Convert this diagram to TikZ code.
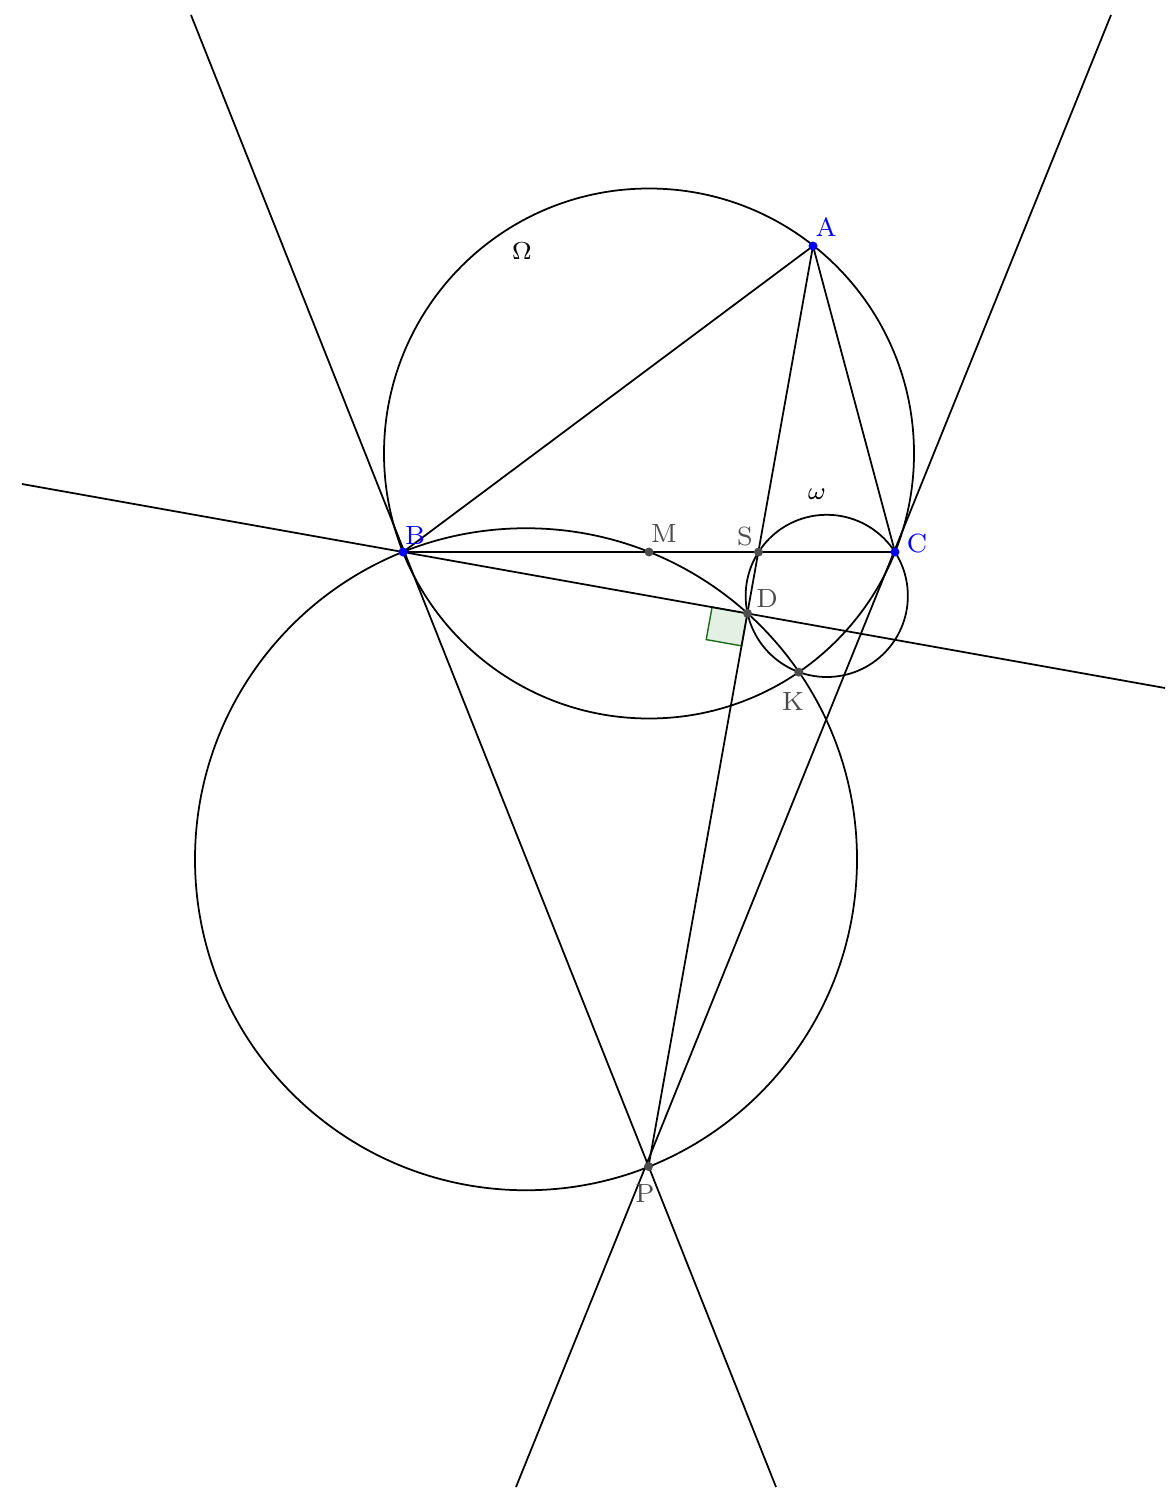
\documentclass[tikz,border=0pt]{standalone}
\usetikzlibrary{calc}
\begin{document}
\begin{tikzpicture}[x=0.01cm, y=-0.01cm, line width=0.5pt,
  lab/.style={font=\fontsize{7.5}{9}\selectfont, inner sep=0pt},
  ptdot/.style={radius=4.5}]
\definecolor{ptblue}{HTML}{0000FF}
\definecolor{ptgray}{HTML}{4D4D4D}
\definecolor{angfill}{HTML}{E3F0E3}
\definecolor{angline}{HTML}{1E6B1E}
\useasboundingbox (0,0) rectangle (1174,1494);
% points
\coordinate (A) at (813,246);
\coordinate (B) at (403,552);
\coordinate (C) at (895,552);
\coordinate (M) at (649,552);
\coordinate (S) at (758.5,552);
\coordinate (D) at (747.5,613.4);
\coordinate (K) at (798.8,672.1);
\coordinate (P) at (648.5,1166.5);
% centres
\coordinate (O) at (649,453.5);
\coordinate (Q) at (526,859.25);
\coordinate (W) at (826.75,595.9);
% free ends of the long lines
\coordinate (tB1) at (191,15);
\coordinate (tB2) at (776,1487);
\coordinate (tC1) at (1111,15);
\coordinate (tC2) at (516,1487);
\coordinate (bd1) at (22,484);
\coordinate (bd2) at (1165,688);
% right angle at D
\coordinate (ra1) at ($(D)!0.36cm!(B)$);
\coordinate (ra2) at ($(D)!0.33cm!(P)$);
\filldraw[fill=angfill, draw=angline, line width=0.4pt] (D) -- (ra1) -- ($(ra1)+(ra2)-(D)$) -- (ra2) -- cycle;
% circles
\draw (O) circle[radius=265];
\draw (Q) circle[radius=331];
\draw (W) circle[radius=81.1];
% lines
\draw (tB1) -- (tB2);
\draw (tC1) -- (tC2);
\draw (bd1) -- (bd2);
\draw (A) -- (B) -- (C) -- cycle;
\draw (A) -- (P);
% dots
\fill[ptblue] (A) circle[ptdot] (B) circle[ptdot] (C) circle[ptdot];
\fill[ptgray] (M) circle[ptdot] (S) circle[ptdot] (D) circle[ptdot] (K) circle[ptdot] (P) circle[ptdot];
% labels
\node[lab, text=ptblue] (lA) at (826,227) {A};
\node[lab, text=ptblue] (lB) at (415,535) {B};
\node[lab, text=ptblue] (lC) at (917,543) {C};
\node[lab, text=ptgray] (lM) at (664,533) {M};
\node[lab, text=ptgray] (lS) at (745,536) {S};
\node[lab, text=ptgray] (lD) at (767,598) {D};
\node[lab, text=ptgray] (lK) at (793,701) {K};
\node[lab, text=ptgray] (lP) at (645,1193) {P};
\node[lab] (lOm) at (522,251) {$\Omega$};
\node[lab] (lom) at (817,494) {$\omega$};
\end{tikzpicture}
\end{document}
